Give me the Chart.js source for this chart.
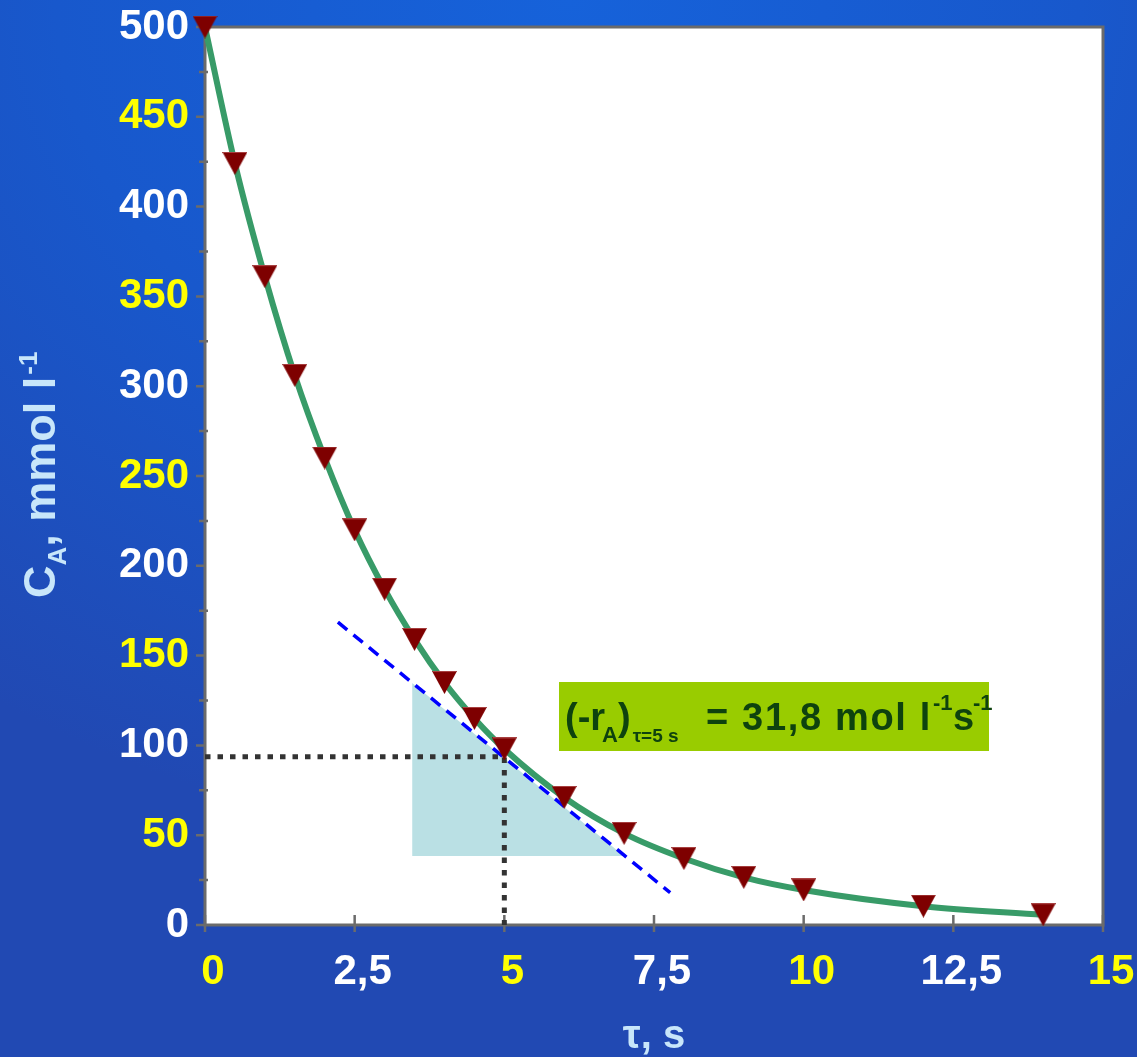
<!DOCTYPE html>
<html><head><meta charset="utf-8">
<script src="https://cdn.jsdelivr.net/npm/chart.js@4.4.1/dist/chart.umd.min.js"></script>
<style>
html,body{margin:0;padding:0;width:1137px;height:1057px;overflow:hidden;
background: radial-gradient(ellipse 90% 80% at 50% 0%, #1662da 0%, #1858cc 50%, #2149b3 100%);}
canvas{display:block}
</style></head><body>
<canvas id="c" width="1137" height="1057"></canvas>
<script>
// ---- data ----
const tau = [0, 0.5, 1, 1.5, 2, 2.5, 3, 3.5, 4, 4.5, 5, 6, 7, 8, 9, 10, 12, 14];
const cA  = [500, 424, 361, 306, 260, 220, 187, 159, 135, 115, 98, 71, 51, 37, 26.5, 19.5, 10.5, 5.7];
const tangentX = [2.22, 7.77];
const tangentY = [168.6, 18.0];
const triangleX = [3.46, 7.0];
const triangleY = [134.7, 38.4];
const triangleBase = 38.4;
const guideX = [0, 5, 5];
const guideY = [93.7, 93.7, 0];
const xTickValues = [0, 2.5, 5, 7.5, 10, 12.5, 15];
const xTickLabels = ['0', '2,5', '5', '7,5', '10', '12,5', '15'];
const yTickValues = [0, 50, 100, 150, 200, 250, 300, 350, 400, 450, 500];
const yTickLabels = ['0', '50', '100', '150', '200', '250', '300', '350', '400', '450', '500'];
const xTitle = 'τ, s';
const yTitleParts = ['C', 'A', ', mmol l', '-1'];
const annotParts = ['(-r', 'A', ')', 'τ=5 s', '= 31,8 mol l', '-1', 's', '-1'];

const FONT = "'Liberation Sans', Arial, sans-serif";
const YELLOW = '#ffff00', WHITE = '#ffffff', TITLE = '#c8e6fa';

function makeMarker() {
  const c = document.createElement('canvas');
  c.width = 25; c.height = 23;
  const g = c.getContext('2d');
  g.fillStyle = '#7e0000';
  g.beginPath(); g.moveTo(0, 0); g.lineTo(25, 0); g.lineTo(12.5, 23); g.closePath(); g.fill();
  g.fillStyle = '#a84040';
  g.fillRect(1, 0, 23, 1);
  return c;
}
const marker = makeMarker();

const framePlugin = {
  id: 'frame',
  beforeDraw(chart) {
    const {ctx, chartArea: a} = chart;
    ctx.save();
    ctx.fillStyle = '#ffffff';
    ctx.fillRect(a.left, a.top, a.right - a.left, a.bottom - a.top);
    ctx.restore();
  },
  beforeDatasetsDraw(chart) {
    const {ctx, chartArea: a, scales} = chart;
    ctx.save();
    ctx.strokeStyle = '#6b6b6b';
    ctx.lineWidth = 3;
    ctx.strokeRect(a.left, a.top, a.right - a.left, a.bottom - a.top);
    ctx.lineWidth = 2.5;
    ctx.beginPath();
    scales.y.ticks.forEach(t => {
      const py = scales.y.getPixelForValue(t.value);
      if (t.value % 50 === 0) { ctx.moveTo(a.left - 9, py); ctx.lineTo(a.left, py); }
      else { ctx.moveTo(a.left - 6, py); ctx.lineTo(a.left + 3, py); }
    });
    scales.x.ticks.forEach(t => {
      const px = scales.x.getPixelForValue(t.value);
      ctx.moveTo(px, a.bottom - 10); ctx.lineTo(px, a.bottom + 7);
    });
    ctx.stroke();
    ctx.restore();
  },
  afterDraw(chart) {
    const {ctx, chartArea: a} = chart;
    ctx.save();
    // x title
    ctx.fillStyle = TITLE;
    ctx.font = 'bold 40px ' + FONT;
    ctx.textAlign = 'center';
    ctx.textBaseline = 'alphabetic';
    ctx.fillText(xTitle, (a.left + a.right) / 2, 1048);
    // y title (rotated)
    ctx.translate(55, 598);
    ctx.rotate(-Math.PI / 2);
    ctx.textAlign = 'left';
    let x = 0;
    ctx.font = 'bold 45px ' + FONT;
    ctx.fillText(yTitleParts[0], x, 0); x += ctx.measureText(yTitleParts[0]).width;
    ctx.font = 'bold 26px ' + FONT;
    ctx.fillText(yTitleParts[1], x, 11); x += ctx.measureText(yTitleParts[1]).width;
    ctx.font = 'bold 45px ' + FONT;
    ctx.fillText(yTitleParts[2], x, 0); x += ctx.measureText(yTitleParts[2]).width;
    ctx.font = 'bold 26px ' + FONT;
    ctx.fillText(yTitleParts[3], x + 2, -18);
    ctx.restore();

    // annotation box
    ctx.save();
    ctx.fillStyle = '#99cc00';
    ctx.fillRect(559, 682, 430, 69);
    ctx.fillStyle = '#0e420e';
    ctx.textBaseline = 'alphabetic';
    ctx.textAlign = 'left';
    const big = 'bold 38px ' + FONT, sub = 'bold 22px ' + FONT, tiny = 'bold 19px ' + FONT;
    let ax = 565;
    ctx.font = big;  ctx.fillText(annotParts[0], ax, 730); ax += ctx.measureText(annotParts[0]).width - 3;
    ctx.font = sub;  ctx.fillText(annotParts[1], ax, 742); ax += ctx.measureText(annotParts[1]).width;
    ctx.font = big;  ctx.fillText(annotParts[2], ax, 730); ax += ctx.measureText(annotParts[2]).width + 2;
    ctx.font = tiny; ctx.fillText(annotParts[3], ax, 742);
    ctx.font = big;
    const w0 = ctx.measureText(annotParts[4]).width;
    const ls = (226 - w0) / annotParts[4].length;
    ctx.letterSpacing = ls.toFixed(2) + 'px';
    ctx.fillText(annotParts[4], 706, 730);
    ctx.letterSpacing = '0px';
    ctx.font = sub;  ctx.fillText(annotParts[5], 933, 710);
    ctx.font = big;  ctx.fillText(annotParts[6], 953, 730);
    ctx.font = sub;  ctx.fillText(annotParts[7], 973, 710);
    ctx.restore();
  }
};

const pts = (xs, ys) => xs.map((v, i) => ({x: v, y: ys[i]}));

new Chart(document.getElementById('c'), {
  type: 'line',
  data: {
    datasets: [
      { data: pts(tau, cA), borderColor: '#389b68', borderWidth: 6,
        cubicInterpolationMode: 'monotone', pointStyle: marker, pointRadius: 12,
        clip: false, order: 1 },
      { data: pts(tangentX, tangentY), borderColor: '#0000ff', borderWidth: 3.5,
        borderDash: [12, 8], pointRadius: 0, order: 3 },
      { data: pts(guideX, guideY), borderColor: '#333333', borderWidth: 5,
        borderDash: [5.5, 7], borderCapStyle: 'butt', pointRadius: 0, clip: false, order: 4 },
      { data: pts(triangleX, triangleY), borderColor: 'rgba(0,0,0,0)', borderWidth: 0,
        backgroundColor: '#bae0e4', fill: {value: triangleBase}, pointRadius: 0, order: 5 }
    ]
  },
  options: {
    responsive: false, animation: false, devicePixelRatio: 1,
    layout: {padding: {top: 27, right: 34, left: 0, bottom: 0}},
    plugins: {legend: {display: false}, tooltip: {enabled: false}},
    scales: {
      x: {
        type: 'linear', min: 0, max: 15,
        grid: {display: false, drawTicks: false}, border: {display: false},
        afterFit: s => { s.height = 132; s.paddingLeft = 0; s.paddingRight = 0; },
        ticks: {
          stepSize: 2.5, autoSkip: false, maxRotation: 0, padding: 22, labelOffset: 8,
          font: {family: FONT, size: 42, weight: 'bold'},
          color: c => { const i = xTickValues.indexOf(c.tick.value); return (i % 2 === 0) ? YELLOW : WHITE; },
          callback: v => { const i = xTickValues.indexOf(v); return i >= 0 ? xTickLabels[i] : ''; }
        }
      },
      y: {
        min: 0, max: 500,
        grid: {display: false, drawTicks: false}, border: {display: false},
        afterFit: s => { s.width = 205; s.paddingTop = 0; s.paddingBottom = 0; },
        ticks: {
          stepSize: 25, autoSkip: false, padding: 16,
          font: {family: FONT, size: 42, weight: 'bold'},
          color: c => { const i = yTickValues.indexOf(c.tick.value); return (i % 2 === 1) ? YELLOW : WHITE; },
          callback: v => { const i = yTickValues.indexOf(v); return i >= 0 ? yTickLabels[i] : ''; }
        }
      }
    }
  },
  plugins: [framePlugin]
});
</script>
</body></html>
